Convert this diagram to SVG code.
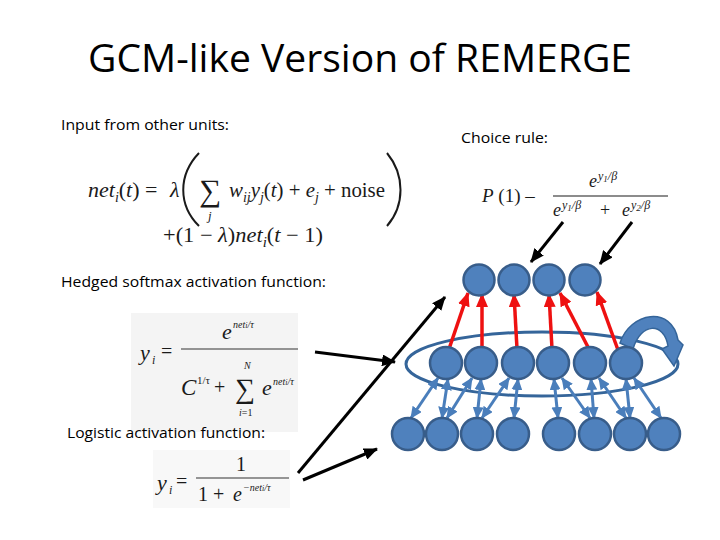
<svg xmlns="http://www.w3.org/2000/svg" width="720" height="540" viewBox="0 0 720 540">
<style>
.lbl{font-family:"Open Sans","Liberation Sans",sans-serif;font-size:14px;fill:#000}
.ttl{font-family:"Open Sans","Liberation Sans",sans-serif;font-size:38px;fill:#000}
.m{font-family:"Liberation Serif","DejaVu Serif",serif;fill:#1a1a1a}
.i{font-style:italic}
.node{fill:#4f81bd;stroke:#385d8a;stroke-width:2.5}
.red{stroke:#ee1111;stroke-width:3.5;fill:none;marker-end:url(#hr)}
.blu{stroke:#4a7ebb;stroke-width:3;fill:none;marker-end:url(#hb);marker-start:url(#hb)}
.blk{stroke:#000;stroke-width:3;fill:none;marker-end:url(#hk)}
</style>
<defs>
<marker id="hr" markerUnits="userSpaceOnUse" markerWidth="14" markerHeight="12" refX="13" refY="6" orient="auto"><path d="M0,0 L14,6 L0,12 Z" fill="#ee1111"/></marker>
<marker id="hb" markerUnits="userSpaceOnUse" markerWidth="12" markerHeight="11" refX="11" refY="5.5" orient="auto-start-reverse"><path d="M0,0 L12,5.5 L0,11 Z" fill="#4a7ebb"/></marker>
<marker id="hk" markerUnits="userSpaceOnUse" markerWidth="14" markerHeight="12" refX="13" refY="6" orient="auto"><path d="M0,0 L14,6 L0,12 Z" fill="#000"/></marker>
</defs>
<rect width="720" height="540" fill="#fff"/>

<text class="ttl" x="360" y="72" text-anchor="middle" textLength="544" lengthAdjust="spacingAndGlyphs">GCM-like Version of REMERGE</text>

<g id="formula-net">
<text class="m" x="88" y="197" font-size="22"><tspan class="i">net</tspan><tspan class="i" font-size="14" dy="5">i</tspan><tspan dy="-5">(</tspan><tspan class="i">t</tspan><tspan>) =</tspan></text>
<text class="m i" x="170" y="197" font-size="22">λ</text>
<path d="M199,153 C178,175 178,205 199,226" fill="none" stroke="#1a1a1a" stroke-width="2"/>
<text class="m" x="199" y="201" font-size="31">∑</text>
<text class="m i" x="208" y="220" font-size="13">j</text>
<text class="m" x="229" y="197" font-size="21" textLength="156" lengthAdjust="spacingAndGlyphs"><tspan class="i">w</tspan><tspan class="i" font-size="14" dy="5">ij</tspan><tspan class="i" dy="-5">y</tspan><tspan class="i" font-size="14" dy="5">j</tspan><tspan dy="-5">(</tspan><tspan class="i">t</tspan><tspan>) + </tspan><tspan class="i">e</tspan><tspan class="i" font-size="14" dy="5">j</tspan><tspan dy="-5"> + noise</tspan></text>
<path d="M387,153 C405,175 405,205 387,226" fill="none" stroke="#1a1a1a" stroke-width="2"/>
<text class="m" x="163" y="242" font-size="21" textLength="160" lengthAdjust="spacingAndGlyphs"><tspan>+(1 − </tspan><tspan class="i">λ</tspan><tspan>)</tspan><tspan class="i">net</tspan><tspan class="i" font-size="14" dy="5">i</tspan><tspan dy="-5">(</tspan><tspan class="i">t</tspan><tspan> − 1)</tspan></text>
</g>

<g id="formula-choice">
<text class="m" x="482" y="202" font-size="19"><tspan class="i">P</tspan><tspan> (1) –</tspan></text>
<line x1="553" y1="196" x2="668" y2="196" stroke="#1a1a1a" stroke-width="1.2"/>
<text class="m i" x="589" y="187" font-size="18">e</text>
<text class="m i" x="598" y="180" font-size="12">y<tspan font-size="9" dy="2">1</tspan><tspan dy="-2">/β</tspan></text>
<text class="m i" x="553" y="216" font-size="18">e</text>
<text class="m i" x="562" y="209" font-size="12">y<tspan font-size="9" dy="2">1</tspan><tspan dy="-2">/β</tspan></text>
<text class="m" x="600" y="216" font-size="18">+</text>
<text class="m i" x="622" y="216" font-size="18">e</text>
<text class="m i" x="631" y="209" font-size="12">y<tspan font-size="9" dy="2">2</tspan><tspan dy="-2">/β</tspan></text>
</g>

<g id="formula-softmax">
<rect x="131" y="313" width="167" height="119" fill="#f4f4f4"/>
<text class="m i" x="140" y="360" font-size="22">y</text>
<text class="m i" x="152" y="364" font-size="12">i</text>
<text class="m" x="161" y="358" font-size="20">=</text>
<line x1="181" y1="349" x2="298" y2="349" stroke="#333" stroke-width="1.2"/>
<text class="m i" x="222" y="339" font-size="22">e</text>
<text class="m i" x="233" y="328" font-size="10">net<tspan font-size="8">i</tspan>/τ</text>
<text class="m i" x="181" y="395" font-size="23">C</text>
<text class="m" x="197" y="384" font-size="11">1/τ</text>
<text class="m" x="214" y="394" font-size="20">+</text>
<text class="m" x="235" y="398" font-size="28">∑</text>
<text class="m i" x="244" y="369" font-size="10">N</text>
<text class="m" x="239" y="416" font-size="10"><tspan class="i">i</tspan>=1</text>
<text class="m i" x="262" y="395" font-size="22">e</text>
<text class="m i" x="273" y="385" font-size="10">net<tspan font-size="8">i</tspan>/τ</text>
</g>

<g id="formula-logistic">
<rect x="153" y="450" width="137" height="58" fill="#f8f8f8"/>
<text class="m i" x="157" y="490" font-size="22">y</text>
<text class="m i" x="169" y="494" font-size="12">i</text>
<text class="m" x="176" y="488" font-size="20">=</text>
<line x1="196" y1="478" x2="289" y2="478" stroke="#333" stroke-width="1.2"/>
<text class="m" x="236" y="471" font-size="20">1</text>
<text class="m" x="198" y="501" font-size="20">1 +</text>
<text class="m i" x="233" y="501" font-size="20">e</text>
<text class="m i" x="243" y="491" font-size="10">−net<tspan font-size="8">i</tspan>/τ</text>
</g>

<g id="labels">
<text class="lbl" x="61" y="130" textLength="168" lengthAdjust="spacingAndGlyphs">Input from other units:</text>
<text class="lbl" x="461" y="143" textLength="87" lengthAdjust="spacingAndGlyphs">Choice rule:</text>
<text class="lbl" x="61" y="287" textLength="265" lengthAdjust="spacingAndGlyphs">Hedged softmax activation function:</text>
<text class="lbl" x="67" y="438" textLength="198" lengthAdjust="spacingAndGlyphs">Logistic activation function:</text>
</g>

<ellipse id="pool" cx="542" cy="364" rx="136" ry="32" fill="none" stroke="#35659a" stroke-width="3"/>

<g id="connectors">
<line class="red" x1="449" y1="349" x2="468" y2="293"/>
<line class="red" x1="482" y1="349" x2="482" y2="294"/>
<line class="red" x1="517" y1="349" x2="514" y2="294"/>
<line class="red" x1="552" y1="349" x2="549" y2="294"/>
<line class="red" x1="589" y1="349" x2="560" y2="293"/>
<line class="red" x1="618" y1="350" x2="597" y2="292"/>

<line class="blu" x1="438" y1="378" x2="411" y2="418"/>
<line class="blu" x1="448" y1="379" x2="442" y2="418"/>
<line class="blu" x1="472" y1="378" x2="447" y2="418"/>
<line class="blu" x1="481" y1="379" x2="477" y2="418"/>
<line class="blu" x1="509" y1="378" x2="482" y2="418"/>
<line class="blu" x1="518" y1="379" x2="514" y2="418"/>
<line class="blu" x1="554" y1="379" x2="558" y2="418"/>
<line class="blu" x1="562" y1="378" x2="590" y2="418"/>
<line class="blu" x1="591" y1="379" x2="594" y2="418"/>
<line class="blu" x1="599" y1="378" x2="626" y2="418"/>
<line class="blu" x1="626" y1="379" x2="630" y2="418"/>
<line class="blu" x1="634" y1="378" x2="661" y2="418"/>

<line class="blk" x1="563" y1="222" x2="531" y2="262"/>
<line class="blk" x1="632" y1="222" x2="600" y2="264"/>
<line class="blk" x1="298" y1="473" x2="445" y2="297"/>
<line class="blk" x1="315" y1="352" x2="395" y2="362"/>
<line class="blk" x1="303" y1="480" x2="377" y2="449"/>

<path id="recurrent" d="M620,343 C630,312 672,305 678,340 L683,345 L674,366 L662,349 L668,346 C664,322 641,322 633,349 Z" fill="#4f81bd" stroke="#35659a" stroke-width="1.5"/>
</g>

<g id="top-nodes">
<circle id="t1" class="node" cx="479" cy="280" r="15.5"/>
<circle id="t2" class="node" cx="514" cy="280" r="15.5"/>
<circle id="t3" class="node" cx="549" cy="280" r="15.5"/>
<circle id="t4" class="node" cx="585" cy="280" r="15.5"/>
</g>
<g id="mid-nodes">
<circle id="m1" class="node" cx="446" cy="363" r="16"/>
<circle id="m2" class="node" cx="481" cy="363" r="16"/>
<circle id="m3" class="node" cx="518" cy="363" r="16"/>
<circle id="m4" class="node" cx="553" cy="363" r="16"/>
<circle id="m5" class="node" cx="590" cy="363" r="16"/>
<circle id="m6" class="node" cx="626" cy="363" r="16"/>
</g>
<g id="bottom-nodes">
<circle id="b1" class="node" cx="408" cy="434" r="16"/>
<circle id="b2" class="node" cx="442" cy="434" r="16"/>
<circle id="b3" class="node" cx="477" cy="434" r="16"/>
<circle id="b4" class="node" cx="513" cy="434" r="16"/>
<circle id="b5" class="node" cx="559" cy="434" r="16"/>
<circle id="b6" class="node" cx="595" cy="434" r="16"/>
<circle id="b7" class="node" cx="630" cy="434" r="16"/>
<circle id="b8" class="node" cx="664" cy="434" r="16"/>
</g>
</svg>
